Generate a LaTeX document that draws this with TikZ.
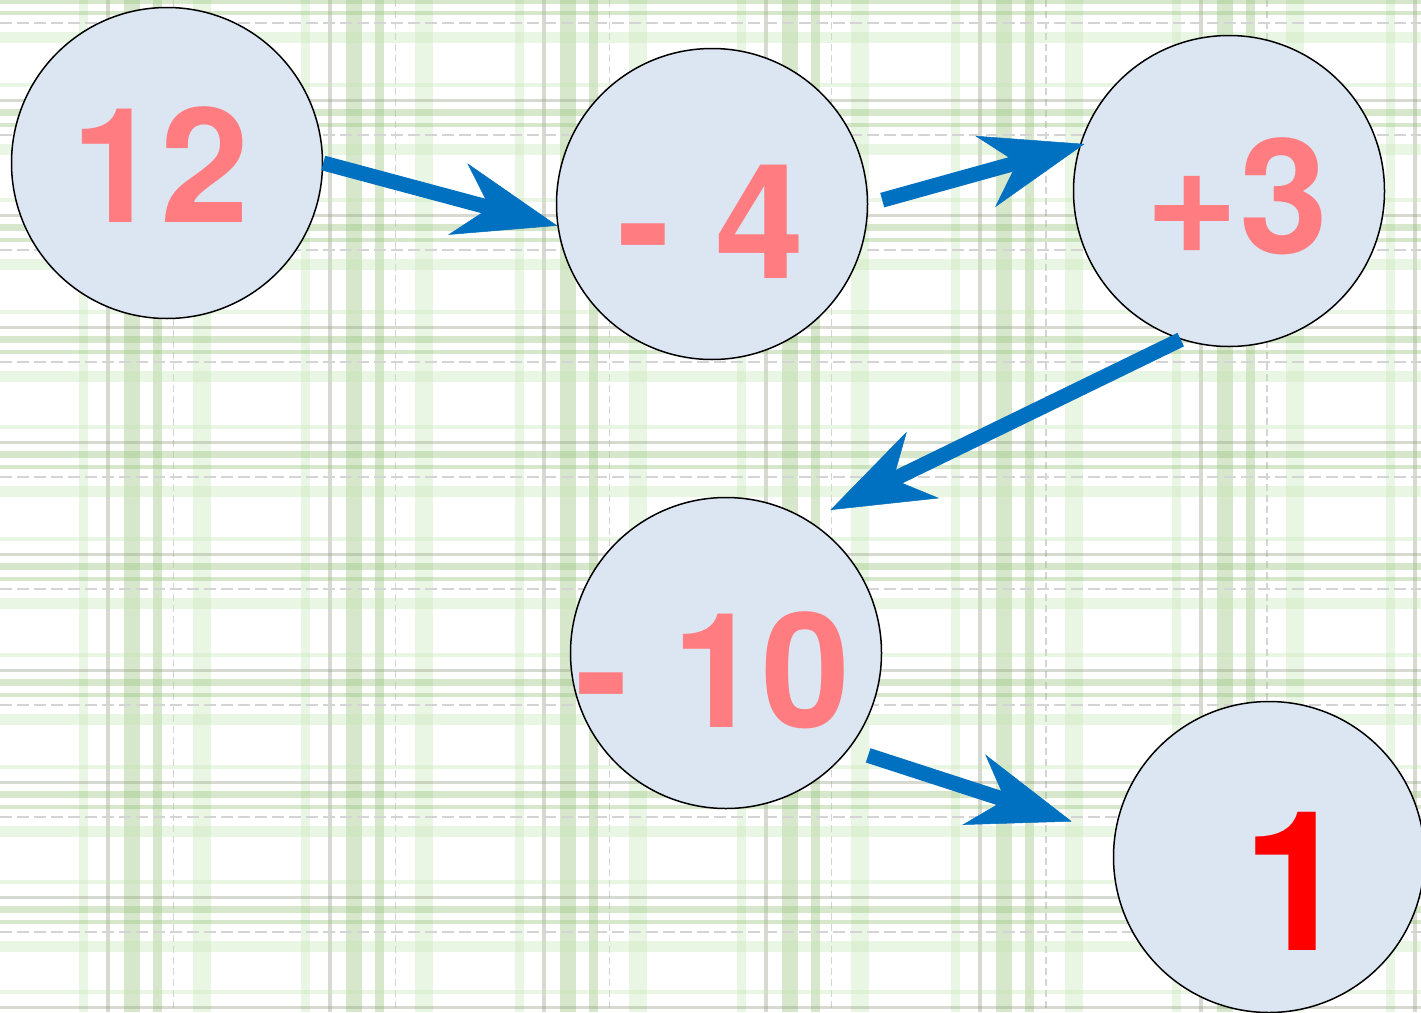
\documentclass[tikz,border=0pt]{standalone}
\usepackage{fontspec}
\setmainfont{TeX Gyre Heros}
\usetikzlibrary{arrows.meta}
\definecolor{nodefill}{HTML}{DCE6F2}
\definecolor{numcol}{HTML}{FF7C80}
\definecolor{lastcol}{HTML}{FF0000}
\definecolor{arrowblue}{HTML}{0070C0}
\definecolor{plaidgreen}{RGB}{159,199,133}
\definecolor{plaidgray}{RGB}{145,155,125}
\definecolor{plaidlight}{RGB}{197,230,180}
\definecolor{plaiddash}{RGB}{212,212,212}
\tikzset{
  numnode/.style={circle, draw=black, line width=1.5pt, fill=nodefill, minimum size=311pt, inner sep=0pt},
  numtext/.style={font=\fontsize{160pt}{160pt}\selectfont\bfseries, text=numcol, inner sep=0pt, anchor=base},
  flow/.style={draw=arrowblue, line width=15pt, -{Stealth[length=103pt,width=74pt,inset=33pt,line width=0.5pt]}},
  bandlight/.style={fill=plaidlight, opacity=0.35},
  bandgray/.style={fill=plaidgray, opacity=0.36},
  bandgreen/.style={fill=plaidgreen, opacity=0.42},
  banddash/.style={draw=plaiddash, line width=1.2pt}
}
\begin{document}
\begin{tikzpicture}[x=1pt,y=-1pt]
\useasboundingbox (0,0) rectangle (1421,1012);
\clip (0,0) rectangle (1421,1012);
\fill[white] (0,0) rectangle (1421,1012);
% vertical plaid bands
\foreach \g in {107.5,329.5,543.7,765.5,980,1201,1415} {
  \fill[bandlight] (\g-29,0) rectangle (\g-20,1012);
  \fill[bandgray] (\g-2,0) rectangle (\g+2,1012);
  \fill[bandgreen] (\g+16,0) rectangle (\g+32,1012);
  \fill[bandgreen] (\g+45,0) rectangle (\g+54,1012);
  \draw[banddash, dash pattern=on 7pt off 4pt] (\g+66,0) -- (\g+66,1012);
  \fill[bandlight] (\g+85,0) rectangle (\g+103,1012);
}
% horizontal plaid bands
\foreach \g in {-12,100,215,327,442,554,670,782,897,1007} {
  \fill[bandlight] (0,\g-17) rectangle (1421,\g-13);
  \fill[bandgray] (0,\g-1.5) rectangle (1421,\g+1.5);
  \fill[bandgreen] (0,\g+9) rectangle (1421,\g+16);
  \fill[bandgreen] (0,\g+23) rectangle (1421,\g+27);
  \draw[banddash, dash pattern=on 12pt off 5pt] (0,\g+35) -- (1421,\g+35);
  \fill[bandlight] (0,\g+44) rectangle (1421,\g+55);
}
% circles
\node[numnode] (c1) at (167,163) {};
\node[numnode] (c2) at (712,204) {};
\node[numnode] (c3) at (1229,191) {};
\node[numnode] (c4) at (726,653) {};
\node[numnode] (c5) at (1269,857) {};
% numbers
\node[numtext] (t1) at (160,222) {12};
\node[numtext] (t2) at (711,278) {- 4};
\node[numtext] (t3) at (1237,253) {+3};
\node[numtext] (t4) at (713,727) {- 10};
\node[numtext, text=lastcol, font=\fontsize{195pt}{195pt}\selectfont\bfseries] (t5) at (1297,950) {1};
% arrows
\draw[flow] (c1.0) -- (c2.188);
\draw[flow, shorten <=14.5pt, shorten >=-5pt] (c2.0) -- (c3.163);
\draw[flow, shorten >=24pt] (c3.252) -- (c4.58);
\draw[flow, shorten <=20pt, shorten >=44.7pt] (c4.322) -- (c5.172);
\end{tikzpicture}
\end{document}
